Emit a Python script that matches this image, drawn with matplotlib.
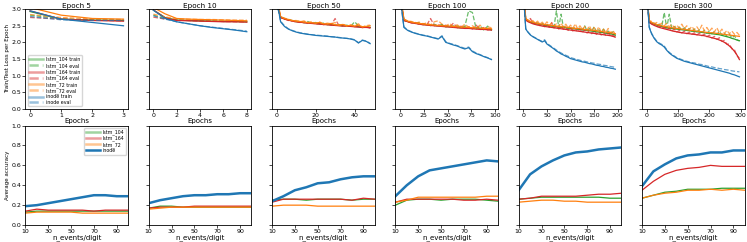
import matplotlib
matplotlib.use("Agg")
import matplotlib.pyplot as plt

# ---- loss curves (top row) ----
titles = ["Epoch 5", "Epoch 10", "Epoch 50", "Epoch 100", "Epoch 200", "Epoch 300"]
x_ticks_top = [[0, 1, 2, 3], [0, 2, 4, 6, 8], [0, 20, 40],
               [0, 25, 50, 75, 100], [0, 50, 100, 150, 200], [0, 100, 200, 300]]
x_lims_top = [(-0.15, 3.15), (-0.4, 8.4), (-2.4, 50.4), (-5, 103), (-10, 208), (-15, 313)]

ep5 = [0, 1, 2, 3]
ep10 = [0, 1, 2, 3, 4, 5, 6, 7, 8]
ep50 = list(range(0, 49, 2))
ep100 = list(range(0, 100, 4))
ep200 = list(range(0, 200, 5))
ep300 = list(range(0, 300, 8))

loss_5 = {
    "lstm_104 train": [2.93, 2.70, 2.67, 2.66],
    "lstm_104 eval": [2.82, 2.71, 2.68, 2.67],
    "lstm_164 train": [2.95, 2.70, 2.66, 2.64],
    "lstm_164 eval": [2.75, 2.70, 2.67, 2.65],
    "lstm_72 train": [3.05, 2.82, 2.72, 2.70],
    "lstm_72 eval": [2.84, 2.75, 2.71, 2.69],
    "inode train": [2.95, 2.70, 2.60, 2.50],
    "inode eval": [2.78, 2.68, 2.66, 2.66],
}
loss_10 = {
    "lstm_104 train": [2.97, 2.75, 2.67, 2.66, 2.65, 2.64, 2.63, 2.63, 2.62],
    "lstm_104 eval": [2.82, 2.72, 2.68, 2.66, 2.65, 2.65, 2.64, 2.63, 2.63],
    "lstm_164 train": [2.98, 2.74, 2.66, 2.65, 2.64, 2.63, 2.62, 2.62, 2.61],
    "lstm_164 eval": [2.76, 2.70, 2.67, 2.66, 2.65, 2.64, 2.63, 2.62, 2.62],
    "lstm_72 train": [3.05, 2.86, 2.72, 2.70, 2.69, 2.68, 2.67, 2.66, 2.65],
    "lstm_72 eval": [2.85, 2.77, 2.71, 2.70, 2.69, 2.69, 2.68, 2.67, 2.67],
    "inode train": [2.97, 2.72, 2.62, 2.56, 2.50, 2.45, 2.41, 2.37, 2.32],
    "inode eval": [2.80, 2.70, 2.62, 2.56, 2.50, 2.46, 2.42, 2.38, 2.34],
}
loss_50 = {
    "lstm_104 train": [3.20, 2.76, 2.71, 2.68, 2.65, 2.63, 2.62, 2.60, 2.59, 2.58, 2.57, 2.56, 2.55,
                       2.54, 2.53, 2.52, 2.51, 2.50, 2.50, 2.49, 2.48, 2.47, 2.46, 2.46, 2.45],
    "lstm_104 eval": [3.10, 2.77, 2.72, 2.67, 2.66, 2.62, 2.64, 2.59, 2.63, 2.57, 2.60, 2.55, 2.58,
                      2.53, 2.55, 2.51, 2.54, 2.49, 2.52, 2.48, 2.62, 2.50, 2.45, 2.49, 2.44],
    "lstm_164 train": [3.30, 2.75, 2.70, 2.67, 2.64, 2.62, 2.61, 2.59, 2.58, 2.57, 2.56, 2.55, 2.54,
                       2.53, 2.52, 2.51, 2.50, 2.49, 2.49, 2.48, 2.47, 2.46, 2.45, 2.45, 2.44],
    "lstm_164 eval": [3.20, 2.74, 2.71, 2.66, 2.65, 2.61, 2.60, 2.62, 2.57, 2.59, 2.55, 2.57, 2.53,
                      2.56, 2.52, 2.72, 2.50, 2.53, 2.48, 2.51, 2.47, 2.49, 2.44, 2.47, 2.43],
    "lstm_72 train": [3.40, 2.78, 2.72, 2.69, 2.66, 2.64, 2.63, 2.61, 2.60, 2.59, 2.58, 2.60, 2.56,
                      2.55, 2.57, 2.53, 2.52, 2.54, 2.50, 2.51, 2.49, 2.52, 2.47, 2.48, 2.50],
    "lstm_72 eval": [3.30, 2.76, 2.73, 2.70, 2.65, 2.66, 2.62, 2.65, 2.59, 2.63, 2.57, 2.62, 2.55,
                     2.58, 2.56, 2.60, 2.51, 2.55, 2.49, 2.53, 2.50, 2.56, 2.46, 2.51, 2.52],
    "inode train": [3.30, 2.62, 2.48, 2.40, 2.35, 2.31, 2.28, 2.26, 2.24, 2.23, 2.21, 2.20, 2.19,
                    2.18, 2.17, 2.16, 2.14, 2.13, 2.12, 2.10, 2.07, 1.98, 2.06, 2.03, 1.96],
    "inode eval": [3.20, 2.64, 2.50, 2.41, 2.36, 2.32, 2.29, 2.27, 2.25, 2.23, 2.22, 2.21, 2.20,
                   2.19, 2.17, 2.16, 2.15, 2.13, 2.12, 2.11, 2.08, 1.99, 2.07, 2.04, 1.97],
}
loss_100 = {
    "lstm_104 train": [3.40, 2.68, 2.63, 2.60, 2.58, 2.56, 2.55, 2.53, 2.52, 2.51, 2.50, 2.52, 2.48,
                       2.47, 2.49, 2.45, 2.44, 2.46, 2.43, 2.42, 2.44, 2.41, 2.40, 2.42, 2.38],
    "lstm_104 eval": [3.30, 2.66, 2.62, 2.61, 2.57, 2.60, 2.53, 2.56, 2.50, 2.55, 2.48, 2.54, 2.46,
                      2.52, 2.45, 2.50, 2.43, 2.48, 2.95, 2.90, 2.40, 2.50, 2.37, 2.49, 2.36],
    "lstm_164 train": [3.40, 2.67, 2.62, 2.59, 2.57, 2.55, 2.53, 2.52, 2.51, 2.50, 2.49, 2.48, 2.47,
                       2.46, 2.45, 2.44, 2.43, 2.42, 2.42, 2.41, 2.40, 2.39, 2.39, 2.38, 2.37],
    "lstm_164 eval": [3.30, 2.65, 2.63, 2.58, 2.60, 2.54, 2.57, 2.52, 2.72, 2.50, 2.54, 2.48, 2.52,
                      2.46, 2.58, 2.44, 2.49, 2.42, 2.47, 2.40, 2.52, 2.38, 2.45, 2.37, 2.40],
    "lstm_72 train": [3.50, 2.70, 2.64, 2.61, 2.59, 2.57, 2.56, 2.54, 2.53, 2.52, 2.51, 2.50, 2.50,
                      2.49, 2.48, 2.47, 2.46, 2.46, 2.45, 2.44, 2.44, 2.43, 2.42, 2.42, 2.41],
    "lstm_72 eval": [3.40, 2.69, 2.65, 2.63, 2.58, 2.61, 2.55, 2.59, 2.53, 2.62, 2.65, 2.55, 2.49,
                     2.57, 2.47, 2.53, 2.45, 2.55, 2.46, 2.50, 2.43, 2.52, 2.41, 2.47, 2.44],
    "inode train": [3.40, 2.45, 2.36, 2.31, 2.27, 2.24, 2.21, 2.19, 2.16, 2.13, 2.10, 2.18, 2.00,
                    1.96, 1.92, 1.89, 1.84, 1.80, 1.84, 1.72, 1.66, 1.62, 1.57, 1.53, 1.48],
    "inode eval": [3.30, 2.47, 2.37, 2.32, 2.28, 2.25, 2.22, 2.20, 2.17, 2.14, 2.11, 2.20, 2.02,
                   1.97, 1.94, 1.90, 1.86, 1.82, 1.86, 1.74, 1.68, 1.63, 1.58, 1.54, 1.49],
}
loss_200 = {
    "lstm_104 train": [3.50, 2.70, 2.64, 2.61, 2.59, 2.57, 2.55, 2.54, 2.53, 2.52, 2.51, 2.50, 2.49,
                       2.48, 2.47, 2.46, 2.45, 2.45, 2.44, 2.43, 2.42, 2.41, 2.41, 2.40, 2.39,
                       2.38, 2.37, 2.36, 2.35, 2.34, 2.33, 2.32, 2.31, 2.30, 2.29, 2.28, 2.27,
                       2.26, 2.24, 2.22],
    "lstm_104 eval": [3.40, 2.68, 2.66, 2.60, 2.62, 2.56, 2.59, 2.53, 2.57, 2.51, 2.55, 2.49, 2.52,
                      2.47, 2.95, 2.45, 2.85, 2.44, 2.50, 2.42, 2.48, 2.40, 2.46, 2.39, 2.45,
                      2.37, 2.50, 2.35, 2.42, 2.33, 2.47, 2.31, 2.38, 2.29, 2.40, 2.27, 2.34,
                      2.25, 2.32, 2.20],
    "lstm_164 train": [3.50, 2.68, 2.62, 2.59, 2.56, 2.54, 2.52, 2.51, 2.49, 2.48, 2.47, 2.46, 2.45,
                       2.44, 2.43, 2.42, 2.41, 2.40, 2.39, 2.38, 2.37, 2.36, 2.35, 2.34, 2.33,
                       2.32, 2.31, 2.30, 2.29, 2.28, 2.27, 2.26, 2.25, 2.24, 2.23, 2.22, 2.21,
                       2.20, 2.18, 2.16],
    "lstm_164 eval": [3.40, 2.66, 2.64, 2.72, 2.58, 2.55, 2.60, 2.50, 2.56, 2.47, 2.54, 2.45, 2.60,
                      2.43, 2.50, 2.40, 2.48, 2.39, 2.45, 2.36, 2.44, 2.34, 2.42, 2.32, 2.40,
                      2.30, 2.38, 2.28, 2.36, 2.26, 2.34, 2.24, 2.32, 2.22, 2.30, 2.20, 2.28,
                      2.18, 2.22, 2.14],
    "lstm_72 train": [3.60, 2.72, 2.66, 2.63, 2.61, 2.59, 2.57, 2.56, 2.55, 2.54, 2.53, 2.52, 2.51,
                      2.50, 2.49, 2.48, 2.47, 2.47, 2.46, 2.45, 2.44, 2.43, 2.42, 2.42, 2.41,
                      2.40, 2.39, 2.38, 2.37, 2.37, 2.36, 2.35, 2.34, 2.33, 2.32, 2.31, 2.30,
                      2.29, 2.28, 2.26],
    "lstm_72 eval": [3.50, 2.70, 2.68, 2.62, 2.66, 2.58, 2.64, 2.55, 2.61, 2.53, 2.62, 2.51, 2.58,
                     2.49, 2.56, 2.47, 2.58, 2.45, 2.55, 2.44, 2.52, 2.42, 2.56, 2.41, 2.50,
                     2.39, 2.48, 2.37, 2.50, 2.35, 2.45, 2.33, 2.47, 2.31, 2.40, 2.30, 2.42,
                     2.28, 2.36, 2.24],
    "inode train": [3.50, 2.40, 2.30, 2.22, 2.17, 2.13, 2.09, 2.05, 2.01, 2.05, 1.95, 1.90, 1.85,
                    1.80, 1.74, 1.70, 1.65, 1.62, 1.58, 1.55, 1.51, 1.49, 1.47, 1.45, 1.43,
                    1.41, 1.40, 1.38, 1.36, 1.35, 1.33, 1.31, 1.30, 1.28, 1.27, 1.25, 1.24,
                    1.22, 1.21, 1.19],
    "inode eval": [3.40, 2.42, 2.31, 2.23, 2.18, 2.14, 2.10, 2.06, 2.03, 2.08, 1.97, 1.92, 1.87,
                   1.82, 1.77, 1.72, 1.68, 1.64, 1.61, 1.58, 1.54, 1.52, 1.50, 1.48, 1.46,
                   1.44, 1.43, 1.41, 1.40, 1.38, 1.37, 1.35, 1.34, 1.33, 1.31, 1.30, 1.29,
                   1.27, 1.26, 1.24],
}
loss_300 = {
    "lstm_104 train": [3.50, 2.62, 2.58, 2.55, 2.52, 2.50, 2.48, 2.46, 2.44, 2.43, 2.42, 2.41, 2.40,
                       2.39, 2.38, 2.37, 2.36, 2.35, 2.34, 2.33, 2.32, 2.31, 2.30, 2.29, 2.28,
                       2.27, 2.26, 2.25, 2.24, 2.23, 2.21, 2.19, 2.17, 2.15, 2.12, 2.10, 2.07, 2.05],
    "lstm_104 eval": [3.40, 2.64, 2.57, 2.58, 2.51, 2.55, 2.47, 2.90, 2.43, 2.85, 2.41, 2.48, 2.39,
                      2.46, 2.37, 2.44, 2.35, 2.42, 2.34, 2.40, 2.32, 2.38, 2.30, 2.36, 2.28,
                      2.34, 2.26, 2.32, 2.24, 2.33, 2.22, 2.28, 2.18, 2.25, 2.13, 2.20, 2.08, 2.04],
    "lstm_164 train": [3.50, 2.60, 2.55, 2.51, 2.48, 2.45, 2.43, 2.41, 2.39, 2.37, 2.35, 2.33, 2.32,
                       2.30, 2.29, 2.28, 2.27, 2.26, 2.25, 2.24, 2.23, 2.22, 2.21, 2.20, 2.18,
                       2.16, 2.14, 2.12, 2.10, 2.07, 2.04, 2.00, 1.95, 1.89, 1.82, 1.73, 1.62, 1.48],
    "lstm_164 eval": [3.40, 2.62, 2.54, 2.56, 2.47, 2.50, 2.42, 2.46, 2.38, 2.43, 2.34, 2.40, 2.31,
                      2.36, 2.28, 2.34, 2.26, 2.31, 2.24, 2.29, 2.22, 2.28, 2.20, 2.25, 2.17,
                      2.22, 2.13, 2.18, 2.09, 2.14, 2.03, 2.06, 1.94, 1.95, 1.80, 1.78, 1.60, 1.52],
    "lstm_72 train": [3.60, 2.65, 2.60, 2.57, 2.54, 2.52, 2.50, 2.48, 2.47, 2.45, 2.44, 2.43, 2.42,
                      2.41, 2.40, 2.39, 2.38, 2.37, 2.36, 2.35, 2.34, 2.33, 2.32, 2.31, 2.30,
                      2.29, 2.29, 2.28, 2.27, 2.26, 2.25, 2.24, 2.23, 2.22, 2.21, 2.20, 2.19, 2.18],
    "lstm_72 eval": [3.50, 2.66, 2.63, 2.56, 2.60, 2.53, 2.58, 2.50, 2.57, 2.47, 2.54, 2.45, 2.52,
                     2.43, 2.55, 2.41, 2.50, 2.39, 2.48, 2.38, 2.47, 2.36, 2.52, 2.35, 2.45,
                     2.33, 2.43, 2.31, 2.44, 2.29, 2.40, 2.27, 2.36, 2.26, 2.34, 2.24, 2.30, 2.21],
    "inode train": [3.60, 2.45, 2.25, 2.12, 2.02, 1.96, 1.92, 1.86, 1.76, 1.68, 1.62, 1.57, 1.52,
                    1.49, 1.46, 1.43, 1.41, 1.39, 1.37, 1.35, 1.33, 1.31, 1.29, 1.27, 1.25,
                    1.23, 1.21, 1.19, 1.17, 1.15, 1.13, 1.11, 1.09, 1.07, 1.04, 1.02, 0.99, 0.96],
    "inode eval": [3.50, 2.47, 2.27, 2.14, 2.04, 1.98, 1.94, 1.89, 1.78, 1.70, 1.64, 1.59, 1.54,
                   1.51, 1.48, 1.45, 1.43, 1.41, 1.39, 1.38, 1.36, 1.34, 1.33, 1.31, 1.29,
                   1.27, 1.26, 1.24, 1.23, 1.21, 1.20, 1.18, 1.17, 1.16, 1.14, 1.13, 1.12, 1.11],
}
loss_epochs = [ep5, ep10, ep50, ep100, ep200, ep300]
loss_data = [loss_5, loss_10, loss_50, loss_100, loss_200, loss_300]

# ---- accuracy (bottom row) ----
n_events = [10, 20, 30, 40, 50, 60, 70, 80, 90, 100]
acc_lstm_104 = [
    [0.13, 0.14, 0.14, 0.14, 0.14, 0.14, 0.14, 0.14, 0.14, 0.14],
    [0.17, 0.19, 0.19, 0.18, 0.18, 0.18, 0.18, 0.18, 0.18, 0.18],
    [0.25, 0.26, 0.26, 0.25, 0.26, 0.26, 0.26, 0.25, 0.26, 0.26],
    [0.20, 0.25, 0.26, 0.26, 0.25, 0.26, 0.26, 0.26, 0.25, 0.24],
    [0.26, 0.27, 0.28, 0.28, 0.28, 0.28, 0.28, 0.28, 0.27, 0.27],
    [0.27, 0.30, 0.33, 0.34, 0.36, 0.36, 0.36, 0.37, 0.37, 0.37],
]
acc_lstm_164 = [
    [0.14, 0.16, 0.15, 0.15, 0.15, 0.15, 0.14, 0.15, 0.15, 0.15],
    [0.17, 0.18, 0.18, 0.18, 0.19, 0.19, 0.19, 0.19, 0.19, 0.19],
    [0.23, 0.26, 0.26, 0.26, 0.26, 0.26, 0.26, 0.25, 0.27, 0.26],
    [0.23, 0.26, 0.26, 0.26, 0.26, 0.26, 0.25, 0.25, 0.26, 0.25],
    [0.26, 0.27, 0.29, 0.29, 0.29, 0.29, 0.30, 0.31, 0.31, 0.32],
    [0.35, 0.44, 0.51, 0.55, 0.57, 0.58, 0.60, 0.59, 0.59, 0.59],
]
acc_lstm_72 = [
    [0.12, 0.13, 0.13, 0.13, 0.13, 0.12, 0.12, 0.12, 0.12, 0.12],
    [0.16, 0.17, 0.18, 0.18, 0.18, 0.18, 0.18, 0.18, 0.18, 0.18],
    [0.19, 0.20, 0.20, 0.20, 0.19, 0.19, 0.19, 0.19, 0.19, 0.19],
    [0.23, 0.25, 0.28, 0.28, 0.28, 0.28, 0.28, 0.28, 0.29, 0.29],
    [0.23, 0.24, 0.25, 0.25, 0.24, 0.24, 0.23, 0.23, 0.23, 0.23],
    [0.27, 0.30, 0.32, 0.33, 0.35, 0.35, 0.36, 0.35, 0.36, 0.35],
]
acc_inode = [
    [0.19, 0.20, 0.22, 0.24, 0.26, 0.28, 0.30, 0.30, 0.29, 0.29],
    [0.22, 0.25, 0.27, 0.29, 0.30, 0.30, 0.31, 0.31, 0.32, 0.32],
    [0.24, 0.29, 0.35, 0.38, 0.42, 0.43, 0.46, 0.48, 0.49, 0.49],
    [0.29, 0.40, 0.49, 0.55, 0.57, 0.59, 0.61, 0.63, 0.65, 0.64],
    [0.35, 0.51, 0.59, 0.65, 0.70, 0.73, 0.74, 0.76, 0.77, 0.78],
    [0.39, 0.54, 0.61, 0.67, 0.70, 0.71, 0.73, 0.73, 0.75, 0.75],
]

colors = {"lstm_104": "#2ca02c", "lstm_164": "#d62728", "lstm_72": "#ff7f0e", "inode": "#1f77b4"}
models = ["lstm_104", "lstm_164", "lstm_72", "inode"]

fig, axes = plt.subplots(2, 6, figsize=(7.47, 2.42), dpi=100, sharey="row")
fig.subplots_adjust(left=0.034, right=0.997, top=0.962, bottom=0.07, wspace=0.2, hspace=0.17)

for i in range(6):
    ax = axes[0, i]
    for m in models:
        c = colors[m]
        ax.plot(loss_epochs[i], loss_data[i][m + " train"], color=c, lw=0.9,
                label=m + " train")
        ax.plot(loss_epochs[i], loss_data[i][m + " eval"], color=c, lw=0.9, ls="--",
                alpha=0.7, label=m + " eval")
    ax.set_ylim(0, 3.0)
    ax.set_xlim(*x_lims_top[i])
    ax.set_xticks(x_ticks_top[i])
    ax.set_title(titles[i], fontsize=5.2, pad=1)
    ax.set_xlabel("Epochs", fontsize=5, labelpad=0)
    ax.tick_params(labelsize=4.5, length=2, width=0.5, pad=0.8)
    for s in ax.spines.values():
        s.set_linewidth(0.6)

    ax = axes[1, i]
    ax.plot(n_events, acc_lstm_104[i], color=colors["lstm_104"], lw=0.9, label="lstm_104")
    ax.plot(n_events, acc_lstm_164[i], color=colors["lstm_164"], lw=0.9, label="lstm_164")
    ax.plot(n_events, acc_lstm_72[i], color=colors["lstm_72"], lw=0.9, label="lstm_72")
    ax.plot(n_events, acc_inode[i], color=colors["inode"], lw=1.8, label="inode")
    ax.set_ylim(0, 1.0)
    ax.set_xlim(10, 100)
    ax.set_xticks([10, 30, 50, 70, 90])
    ax.set_xlabel("n_events/digit", fontsize=5, labelpad=0)
    ax.tick_params(labelsize=4.5, length=2, width=0.5, pad=0.8)
    for s in ax.spines.values():
        s.set_linewidth(0.6)

axes[0, 0].set_yticks([0.0, 0.5, 1.0, 1.5, 2.0, 2.5, 3.0])
axes[1, 0].set_yticks([0.0, 0.2, 0.4, 0.6, 0.8, 1.0])
axes[0, 0].set_ylabel("Train/Test Loss per Epoch", fontsize=4, labelpad=1)
axes[1, 0].set_ylabel("Average accuracy", fontsize=4, labelpad=1)

leg = axes[0, 0].legend(loc="lower left", fontsize=3.4, handlelength=3, labelspacing=0.12,
                        borderpad=0.3, handletextpad=0.6, framealpha=0.8)
for h in leg.get_lines():
    h.set_alpha(0.45)
    h.set_linewidth(1.8)
leg2 = axes[1, 0].legend(loc="upper right", fontsize=3.4, handlelength=3, labelspacing=0.12,
                         borderpad=0.3, handletextpad=0.6, framealpha=0.8)
for h in leg2.get_lines()[:3]:
    h.set_alpha(0.45)
    h.set_linewidth(1.8)

fig.savefig("out.png", dpi=100)
